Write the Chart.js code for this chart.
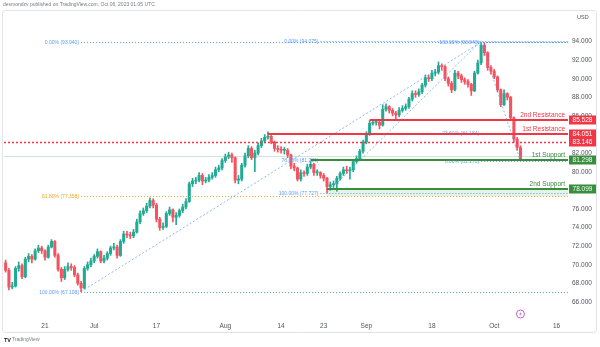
<!DOCTYPE html>
<html>
<head>
<meta charset="utf-8">
<script src="https://cdn.jsdelivr.net/npm/chart.js@4.4.0/dist/chart.umd.min.js"></script>
<style>
  html, body { margin: 0; padding: 0; background: #fff; }
</style>
</head>
<body>
<canvas id="chart" width="600" height="347"></canvas>
<script>
'use strict';

// --- data (price per candle, oldest first) ---
const firstOpen = 70.2;
const closes = [
  69.4, 67.6, 67.7, 69.6, 69.9, 68.7, 70.6, 70.9, 70.6, 71.5,
  71.8, 71.5, 70.8, 71.9, 72.5, 71.0, 69.5, 68.6, 69.5, 69.8,
  69.7, 68.9, 68.0, 67.5, 69.6, 70.0, 70.4, 70.9, 71.4, 70.4,
  70.7, 71.2, 71.8, 71.9, 71.0, 72.5, 73.3, 73.2, 73.1, 73.5,
  74.6, 75.5, 75.8, 76.3, 76.9, 76.4, 74.9, 74.0, 74.1, 75.5,
  75.9, 75.1, 75.3, 75.8, 76.2, 76.8, 78.7, 79.0, 79.1, 79.6,
  79.0, 79.1, 79.4, 79.6, 80.2, 80.4, 81.2, 81.6, 81.8, 81.5,
  79.1, 79.2, 80.7, 81.7, 82.5, 81.5, 82.0, 82.8, 83.3, 83.7,
  83.8, 83.2, 82.5, 82.4, 82.3, 82.3, 81.8, 80.6, 80.4, 79.2,
  79.9, 79.8, 80.5, 80.8, 79.9, 79.9, 79.6, 79.3, 78.4, 78.6,
  78.7, 79.3, 79.8, 80.2, 80.1, 80.2, 81.1, 81.4, 82.2, 83.2,
  84.1, 85.2, 85.3, 85.3, 85.0, 86.7, 87.0, 86.6, 86.3, 86.1,
  86.6, 86.8, 87.0, 87.8, 88.4, 88.3, 88.6, 89.3, 90.1, 90.0,
  90.6, 90.7, 91.4, 91.3, 90.0, 89.5, 88.8, 90.6, 90.3, 89.9,
  89.7, 89.4, 88.7, 90.6, 91.7, 93.6, 92.8, 91.2, 90.8, 90.2,
  88.8, 87.2, 88.4, 88.0, 85.8, 83.5, 82.6, 81.4
];
const highs = [
  70.5, 69.6, 68.1, 69.8, 70.3, 70.1, 70.8, 71.2, 71.1, 71.7,
  72.1, 72.0, 71.6, 72.1, 72.7, 72.6, 71.2, 69.7, 69.8, 70.2,
  70.1, 69.9, 69.1, 68.2, 69.8, 70.3, 70.7, 71.1, 71.7, 71.5,
  71.0, 71.4, 72.0, 72.3, 72.1, 72.7, 73.6, 73.6, 73.5, 73.8,
  74.9, 75.8, 76.1, 76.6, 77.2, 77.1, 76.6, 75.1, 74.5, 75.7,
  76.2, 76.0, 75.6, 76.0, 76.5, 77.1, 78.9, 79.3, 79.4, 79.9,
  79.8, 79.4, 79.7, 79.9, 80.5, 80.7, 81.4, 81.9, 82.1, 82.0,
  81.6, 79.6, 80.9, 82.0, 82.8, 82.7, 82.3, 83.1, 83.6, 84.0,
  84.3, 84.0, 83.3, 82.8, 82.7, 82.6, 82.5, 81.9, 80.9, 80.5,
  80.2, 80.1, 80.8, 81.1, 80.9, 80.2, 80.0, 79.8, 79.4, 78.9,
  79.0, 79.5, 80.0, 80.5, 80.6, 80.5, 81.3, 81.7, 82.4, 83.4,
  84.3, 85.5, 85.6, 85.6, 85.5, 87.2, 87.3, 87.1, 86.8, 86.5,
  86.9, 87.1, 87.3, 88.0, 88.7, 88.7, 88.9, 89.5, 90.4, 90.4,
  90.9, 91.0, 91.8, 91.6, 91.4, 90.2, 89.7, 90.9, 90.8, 90.5,
  90.1, 89.9, 89.5, 90.8, 92.0, 93.94, 93.8, 92.9, 91.4, 91.0,
  90.3, 88.9, 88.8, 88.5, 88.1, 85.9, 83.7, 82.8
];
const lows = [
  69.2, 67.3, 67.4, 67.6, 69.3, 68.5, 68.6, 70.3, 70.2, 70.5,
  71.3, 71.2, 70.5, 70.7, 71.8, 70.8, 69.3, 68.2, 68.4, 69.3,
  69.4, 68.7, 67.8, 67.108, 67.4, 69.4, 69.8, 70.2, 70.7, 70.2,
  70.2, 70.5, 71.0, 71.6, 70.7, 70.9, 72.3, 72.9, 72.8, 72.9,
  73.4, 74.4, 75.3, 75.6, 76.1, 76.1, 74.6, 73.7, 73.8, 74.0,
  75.3, 74.6, 74.3, 75.1, 75.6, 76.0, 76.7, 78.4, 78.7, 78.9,
  78.6, 78.8, 78.9, 79.2, 79.4, 80.0, 80.2, 81.0, 81.4, 81.0,
  78.8, 78.7, 79.0, 80.5, 81.5, 81.3, 80.0, 81.8, 82.6, 83.1,
  83.5, 83.0, 82.2, 82.1, 82.0, 81.9, 81.5, 80.3, 80.1, 79.0,
  79.0, 79.5, 79.6, 80.3, 79.6, 79.6, 79.3, 79.0, 77.727, 78.0,
  78.3, 77.9, 79.1, 79.6, 79.8, 79.2, 80.0, 80.9, 81.2, 82.0,
  83.0, 83.9, 85.0, 85.0, 84.6, 84.9, 86.5, 86.3, 86.0, 85.7,
  85.9, 86.4, 86.6, 86.8, 87.6, 88.0, 88.1, 88.4, 89.1, 89.7,
  89.8, 90.3, 90.5, 90.9, 89.8, 89.2, 88.5, 88.7, 90.0, 89.6,
  89.4, 89.1, 88.2, 88.6, 90.5, 91.5, 92.5, 90.9, 90.5, 90.0,
  88.6, 87.0, 87.1, 87.7, 85.6, 83.2, 82.3, 81.17
];

// time axis: candle slots plus empty space on the right
const slotCount = 172;
const tickSlots = [12, 27, 46, 67, 84, 97, 110, 130, 149, 168];
const tickLabels = ['21', 'Jul', '17', 'Aug', '14', '23', 'Sep', '18', 'Oct', '16'];

// key levels
const resistanceNames = ['2nd Resistance', '1st Resistance'];
const resistanceLevels = [85.528, 84.051];
const pivotLevel = 83.146;
const supportNames = ['1st Support', '2nd Support'];
const supportLevels = [81.298, 78.099];
const prevClose = 81.74;

// fibonacci retracements
const fibAPct = ['0.00%', '61.80%', '100.00%'];
const fibAPrice = [93.940, 77.358, 67.108];
const fibBPct = ['100.00%', '23.60%', '0.00%'];
const fibBPrice = [93.940, 84.184, 81.170];
const fibCPct = ['0.00%', '78.60%', '100.00%'];
const fibCPrice = [94.075, 81.226, 77.727];

// --- drawing setup (positions and styles, not data) ---
const FONT = "'Liberation Sans', Arial, sans-serif";
const UP = '#22ab94';
const DOWN = '#f7525f';
const RED = '#f23645';
const GREEN = '#388e3c';
const BLUE = '#5b9cf6';
const ORANGE = '#f5a623';
const PURPLE = '#ba68c8';
const drawSlots = {
    resistance: [111, 80],
    support: [93, 98],
    fibA: 23,
    fibB: 145,
    fibC: 96,
    fibCLow: 98
};

const opens = closes.map((c, i) => (i === 0 ? firstOpen : closes[i - 1]));
const slots = Array.from({ length: slotCount }, (_, i) => String(i));
const candleColors = closes.map((c, i) => (c >= opens[i] ? UP : DOWN));
const tickMap = {};
tickSlots.forEach((s, i) => { tickMap[s] = tickLabels[i]; });

function line(c, x1, y1, x2, y2, color, width, dash) {
    c.save();
    c.strokeStyle = color;
    c.lineWidth = width;
    c.setLineDash(dash || []);
    c.beginPath();
    c.moveTo(x1, y1);
    c.lineTo(x2, y2);
    c.stroke();
    c.restore();
}

function text(c, str, x, y, color, size, align, weight) {
    c.save();
    c.font = `${weight || 'normal'} ${size}px ${FONT}`;
    c.fillStyle = color;
    c.textAlign = align || 'left';
    c.textBaseline = 'middle';
    c.fillText(str, x, y);
    c.restore();
}

const overlay = {
    id: 'tvOverlay',
    beforeDraw(chart) {
        const c = chart.ctx;
        c.save();
        c.fillStyle = '#fff';
        c.fillRect(0, 0, chart.width, chart.height);
        c.strokeStyle = '#e0e3eb';
        c.lineWidth = 1;
        c.beginPath();
        c.roundRect(2.5, 10.5, 594, 322, 3);
        c.stroke();
        c.restore();
        text(c, 'desmondzv published on TradingView.com, Oct 06, 2023 01:05 UTC', 3, 5, '#787b86', 5);
        text(c, 'USD', 577, 17, '#50535e', 5.5);
        text(c, 'TV', 4, 340, '#131722', 5.5, 'left', 'bold');
        text(c, 'TradingView', 12, 340, '#787b86', 5);
    },
    afterDatasetsDraw(chart) {
        const c = chart.ctx;
        const xs = chart.scales.x;
        const ys = chart.scales.y;
        const area = chart.chartArea;
        const X = s => xs.getPixelForValue(s);
        const Y = p => Math.round(ys.getPixelForValue(p)) + 0.5;
        const R = area.right;

        c.save();
        c.beginPath();
        c.rect(area.left, area.top, area.width, area.height);
        c.clip();

        // previous close line
        line(c, area.left, Y(prevClose), R, Y(prevClose), 'rgba(120,175,170,0.35)', 1);

        // 2nd support zone
        c.fillStyle = 'rgba(76,175,80,0.15)';
        c.fillRect(X(drawSlots.support[1]), Y(supportLevels[1]), R - X(drawSlots.support[1]), Y(fibAPrice[1]) - Y(supportLevels[1]));

        // fibonacci level lines and labels
        const fibs = [
            [fibAPrice, fibAPct, drawSlots.fibA, [BLUE, ORANGE, BLUE]],
            [fibCPrice, fibCPct, drawSlots.fibC, [BLUE, BLUE, BLUE]],
            [fibBPrice, fibBPct, drawSlots.fibB, [BLUE, BLUE, BLUE]]
        ];
        fibs.forEach(([prices, pcts, start, cols]) => {
            prices.forEach((p, i) => {
                const x0 = X(start);
                line(c, x0, Y(p), R, Y(p), cols[i], 1, [1, 2]);
                text(c, `${pcts[i]} (${p.toFixed(3)})`, x0 - 2, Y(p), cols[i], 5, 'right');
            });
        });

        // fibonacci trend lines
        const diag = 'rgba(91,156,246,0.7)';
        line(c, X(drawSlots.fibA), ys.getPixelForValue(fibAPrice[2]), X(drawSlots.fibB), ys.getPixelForValue(fibAPrice[0]), diag, 1, [2, 2]);
        line(c, X(drawSlots.fibCLow), ys.getPixelForValue(fibCPrice[2]), X(drawSlots.fibB), ys.getPixelForValue(fibCPrice[0]), diag, 1, [2, 2]);
        line(c, X(drawSlots.fibB), ys.getPixelForValue(fibBPrice[0]), X(closes.length - 1), ys.getPixelForValue(fibBPrice[2]), diag, 1, [2, 2]);

        // pivot dotted line
        line(c, area.left, Y(pivotLevel), R, Y(pivotLevel), RED, 1.5, [2, 2]);

        c.restore();

        // resistance and support lines
        resistanceLevels.forEach((p, i) => {
            const y = Math.round(ys.getPixelForValue(p));
            line(c, X(drawSlots.resistance[i]), y, R, y, RED, 2);
            text(c, resistanceNames[i], R - 3, y - 5, RED, 6.5, 'right');
        });
        supportLevels.forEach((p, i) => {
            const y = Math.round(ys.getPixelForValue(p));
            line(c, X(drawSlots.support[i]), y, R, y, GREEN, 2);
            text(c, supportNames[i], R - 3, y - 5, GREEN, 6.5, 'right');
        });
    },
    afterDraw(chart) {
        const c = chart.ctx;
        const ys = chart.scales.y;
        const xs = chart.scales.x;
        const area = chart.chartArea;
        const boxes = [
            [resistanceLevels[0], RED],
            [resistanceLevels[1], RED],
            [pivotLevel, RED],
            [supportLevels[0], GREEN],
            [supportLevels[1], GREEN]
        ];
        boxes.forEach(([p, col]) => {
            const y = Math.round(ys.getPixelForValue(p));
            c.fillStyle = col;
            c.fillRect(area.right + 1, y - 4.5, 27, 9);
            text(c, p.toFixed(3), area.right + 14.5, y + 0.5, '#fff', 6.5, 'center');
        });

        // event marker (lightning) under the last candle
        const ex = xs.getPixelForValue(closes.length - 1);
        const ey = area.bottom - 4;
        c.save();
        c.strokeStyle = PURPLE;
        c.fillStyle = '#fff';
        c.lineWidth = 1;
        c.beginPath();
        c.arc(ex, ey, 4, 0, Math.PI * 2);
        c.fill();
        c.stroke();
        c.fillStyle = PURPLE;
        c.beginPath();
        c.moveTo(ex + 0.8, ey - 2.6);
        c.lineTo(ex - 1.4, ey + 0.4);
        c.lineTo(ex, ey + 0.4);
        c.lineTo(ex - 0.8, ey + 2.6);
        c.lineTo(ex + 1.4, ey - 0.4);
        c.lineTo(ex, ey - 0.4);
        c.closePath();
        c.fill();
        c.restore();
    }
};

const chartConfig = {
    type: 'bar',
    data: {
        labels: slots,
        datasets: [
            {
                // wicks
                data: lows.map((l, i) => [l, highs[i]]),
                backgroundColor: candleColors,
                barThickness: 1,
                grouped: false,
                minBarLength: 1
            },
            {
                // bodies
                data: opens.map((o, i) => [o, closes[i]]),
                backgroundColor: candleColors,
                barThickness: 2.4,
                grouped: false,
                minBarLength: 1
            }
        ]
    },
    options: {
        responsive: false,
        animation: false,
        devicePixelRatio: 1,
        layout: { padding: { left: 4, top: 11, right: 0, bottom: 14 } },
        plugins: {
            legend: { display: false },
            tooltip: { enabled: false }
        },
        scales: {
            x: {
                offset: true,
                grid: { display: false, drawTicks: false },
                border: { display: false },
                ticks: {
                    autoSkip: false,
                    maxRotation: 0,
                    padding: 4,
                    color: '#50535e',
                    font: ctx => ({
                        family: FONT,
                        size: 6.5,
                        weight: /^[A-Z]/.test(tickMap[ctx.index] || '') ? 'bold' : 'normal'
                    }),
                    callback: (val, idx) => tickMap[idx]
                },
                afterFit: scale => { scale.height = 15; }
            },
            y: {
                position: 'right',
                min: 64.27,
                max: 97.28,
                grid: { display: false, drawTicks: false },
                border: { display: false },
                ticks: {
                    stepSize: 2,
                    includeBounds: false,
                    padding: 4,
                    color: '#50535e',
                    font: { family: FONT, size: 6.5 },
                    callback: v => (v > 95 ? null : v.toFixed(3))
                },
                afterFit: scale => { scale.width = 32; }
            }
        }
    },
    plugins: [overlay]
};

new Chart(document.getElementById('chart'), chartConfig);
</script>
</body>
</html>
